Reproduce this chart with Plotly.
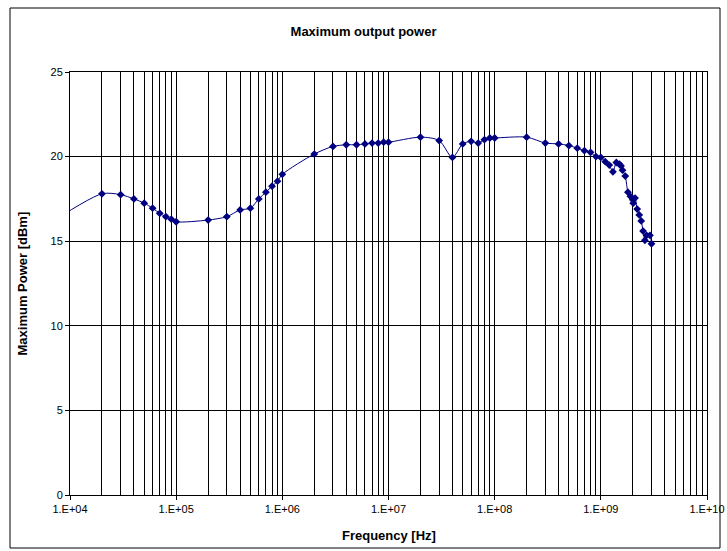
import plotly.graph_objects as go

# Frequency [Hz] (first point lies just left of the visible axis range)
freq = [5e3, 2e4, 3e4, 4e4, 5e4, 6e4, 7e4, 8e4, 9e4,
        1e5, 2e5, 3e5, 4e5, 5e5, 6e5, 7e5, 8e5, 9e5,
        1e6, 2e6, 3e6, 4e6, 5e6, 6e6, 7e6, 8e6, 9e6,
        1e7, 2e7, 3e7, 4e7, 5e7, 6e7, 7e7, 8e7, 9e7,
        1e8, 2e8, 3e8, 4e8, 5e8, 6e8, 7e8, 8e8, 9e8,
        1e9, 1.1e9, 1.2e9, 1.3e9, 1.4e9, 1.5e9, 1.55e9, 1.6e9, 1.7e9, 1.8e9,
        1.9e9, 2.0e9, 2.02e9, 2.1e9, 2.2e9, 2.3e9, 2.4e9, 2.5e9, 2.6e9, 2.7e9,
        2.9e9, 3.0e9]
# Maximum Power [dBm]
power = [15.6, 17.8, 17.75, 17.5, 17.25, 16.95, 16.65, 16.45, 16.3,
         16.15, 16.25, 16.45, 16.85, 16.95, 17.5, 17.9, 18.25, 18.55,
         18.95, 20.15, 20.6, 20.7, 20.7, 20.75, 20.8, 20.8, 20.85,
         20.85, 21.15, 20.95, 19.95, 20.75, 20.9, 20.8, 21.0, 21.1,
         21.1, 21.15, 20.8, 20.75, 20.65, 20.5, 20.35, 20.25, 20.0,
         19.95, 19.7, 19.5, 19.1, 19.65, 19.55, 19.45, 19.2, 18.85, 17.9,
         17.65, 17.45, 17.25, 17.55, 16.9, 16.55, 16.2, 15.6, 15.05, 15.35,
         15.35, 14.85]

x_tick_vals = [1e4, 1e5, 1e6, 1e7, 1e8, 1e9, 1e10]
x_tick_text = ["1.E+04", "1.E+05", "1.E+06", "1.E+07", "1.E+08", "1.E+09", "1.E+10"]
minor_vals = [k * 10 ** d for d in range(4, 10) for k in range(2, 10)]

FONT = "Liberation Sans, Arial, sans-serif"
NAVY = "#000080"

L, R, T, B = 70, 20, 72, 56
PW, PH = 727 - L - R, 551 - T - B

fig = go.Figure()
fig.add_trace(go.Scatter(
    x=freq, y=power, mode="lines+markers",
    line=dict(color=NAVY, width=1, shape="spline", smoothing=0.8),
    marker=dict(symbol="diamond", size=6, color=NAVY),
    showlegend=False,
))

fig.update_layout(
    width=727, height=551,
    margin=dict(l=L, r=R, t=T, b=B),
    paper_bgcolor="white", plot_bgcolor="white",
    font=dict(family=FONT, color="black", size=11),
    title=dict(text="<b>Maximum output power</b>", x=0.5, xanchor="center",
               y=1 - 31 / 551, yanchor="middle",
               font=dict(size=13, family=FONT, color="black")),
    xaxis=dict(
        type="log", range=[4, 10], automargin=False,
        tickmode="array", tickvals=x_tick_vals, ticktext=x_tick_text,
        showgrid=True, gridcolor="black", gridwidth=1,
        minor=dict(tickvals=minor_vals, showgrid=True, gridcolor="black",
                   gridwidth=1, ticks=""),
        showline=True, linecolor="black", linewidth=1, mirror=True,
        ticks="outside", ticklen=4, tickcolor="black",
        tickfont=dict(size=11, family=FONT),
        zeroline=False,
    ),
    yaxis=dict(
        range=[0, 25], dtick=5, tick0=0, automargin=False,
        showgrid=True, gridcolor="black", gridwidth=1,
        showline=True, linecolor="black", linewidth=1, mirror=True,
        ticks="outside", ticklen=4, tickcolor="black",
        tickfont=dict(size=11, family=FONT),
        zeroline=False,
    ),
)

# Axis titles
fig.add_annotation(text="<b>Frequency [Hz]</b>", xref="paper", yref="paper",
                   x=0.5, y=(551 - B - 535) / PH, xanchor="center", yanchor="middle",
                   showarrow=False, font=dict(size=13, family=FONT, color="black"))
fig.add_annotation(text="<b>Maximum Power [dBm]</b>", xref="paper", yref="paper",
                   x=(22 - L) / PW, y=0.5, xanchor="center", yanchor="middle",
                   textangle=-90, showarrow=False,
                   font=dict(size=13, family=FONT, color="black"))

# Chart area border
fig.add_shape(type="rect", xref="paper", yref="paper",
              x0=(10 - L) / PW, x1=(720 - L) / PW,
              y0=(551 - B - 548) / PH, y1=(551 - B - 8) / PH,
              line=dict(color="black", width=1), fillcolor="rgba(0,0,0,0)",
              layer="below")

fig.write_html("out.html")
